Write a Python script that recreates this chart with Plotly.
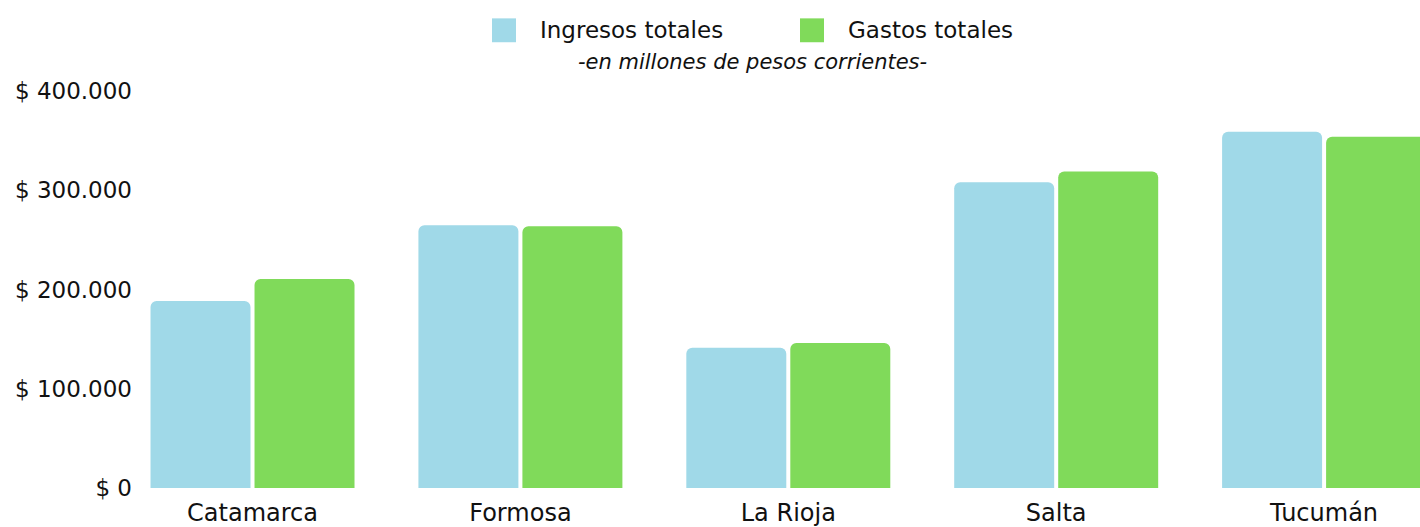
import plotly.graph_objects as go

provincias = ["Catamarca", "Formosa", "La Rioja", "Salta", "Tucumán"]
ingresos = [188500, 264800, 141300, 308000, 359000]
gastos = [210500, 263800, 146000, 319000, 354000]
series_names = ["Ingresos totales", "Gastos totales"]
colors = ["#A0D9E8", "#80DA5A"]
y_tickvals = [0, 100000, 200000, 300000, 400000]
y_ticktext = ["$ 0", "$ 100.000", "$ 200.000", "$ 300.000", "$ 400.000"]
subtitle = "-en millones de pesos corrientes-"

FONT = "DejaVu Sans"
W, H = 1420, 527
ML, MR, MT, MB = 140, 0, 91, 37
PW, PH = W - ML - MR, H - MT - MB


def px(x):
    return (x - ML) / PW


def py(y):
    return (H - MB - y) / PH


fig = go.Figure()
for name, vals, col in zip(series_names, [ingresos, gastos], colors):
    fig.add_trace(go.Bar(
        x=provincias, y=vals, name=name,
        marker=dict(color=col, cornerradius=6, line=dict(width=0)),
        showlegend=False,
    ))

fig.update_layout(
    width=W, height=H,
    margin=dict(l=ML, r=MR, t=MT, b=MB, pad=0),
    paper_bgcolor="white", plot_bgcolor="white",
    barmode="group", bargap=0.2236, bargroupgap=0.0385,
    font=dict(family=FONT, color="#111111", size=23),
    xaxis=dict(
        range=[-0.42, 4.358], showgrid=False, zeroline=False, showline=False,
        ticks="", tickfont=dict(size=24, family=FONT, color="#111111"),
        ticklabelstandoff=8,
    ),
    yaxis=dict(
        range=[0, 400000], showgrid=False, zeroline=False, showline=False,
        tickvals=y_tickvals, ticktext=y_ticktext, ticks="",
        tickfont=dict(size=23, family=FONT, color="#111111"),
        ticklabelstandoff=7,
    ),
)

# custom legend (large squares)
legend_x = [492, 800]
for name, col, x0 in zip(series_names, colors, legend_x):
    fig.add_shape(type="rect", xref="paper", yref="paper",
                  x0=px(x0), x1=px(x0 + 24), y0=py(42), y1=py(18),
                  fillcolor=col, line=dict(width=0), layer="above")
    fig.add_annotation(xref="paper", yref="paper",
                       x=px(x0 + 46), y=py(30),
                       text=name, showarrow=False, xanchor="left", yanchor="middle",
                       font=dict(size=23, family=FONT, color="#111111"))

fig.add_annotation(xref="paper", yref="paper",
                   x=px(752), y=py(62),
                   text="<i>" + subtitle + "</i>", showarrow=False,
                   xanchor="center", yanchor="middle",
                   font=dict(size=21, family=FONT, color="#111111"))

fig.write_html("out.html", config={"displayModeBar": False},
               post_script="document.body.style.margin='0';")
